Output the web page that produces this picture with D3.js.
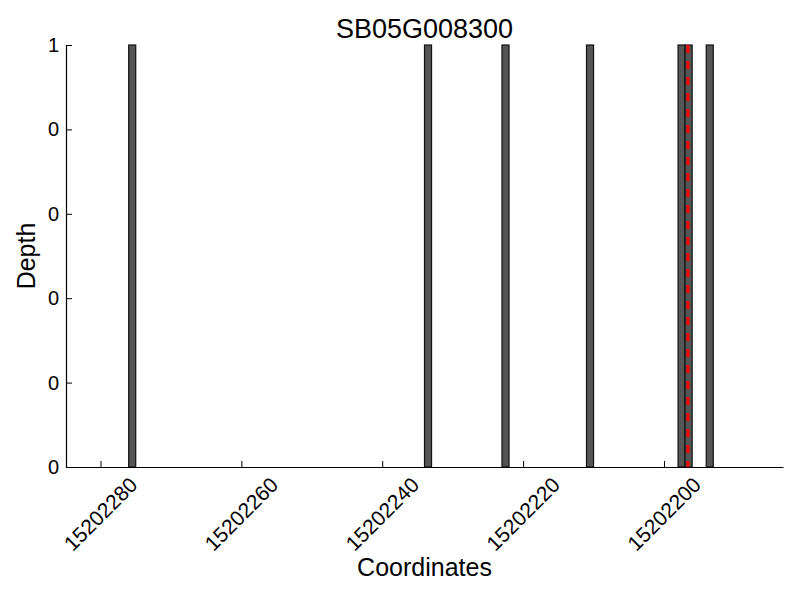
<!DOCTYPE html>
<html>
<head>
<meta charset="utf-8">
<script src="https://cdn.jsdelivr.net/npm/d3@7"></script>
<style>
  body { margin: 0; background: #fff; }
  svg { font-family: "Liberation Sans", Arial, sans-serif; }
</style>
</head>
<body>
<svg id="chart" width="800" height="600"></svg>
<script>
// bar start coordinates (each bar spans 1 bp) and depth
const starts = [15202275, 15202233, 15202222, 15202210, 15202197, 15202196, 15202193]
const depths = [1, 1, 1, 1, 1, 1, 1]
const marker = 15202196.6
const xTicks = [15202280, 15202260, 15202240, 15202220, 15202200]
const yTicks = [0, 0.2, 0.4, 0.6, 0.8, 1]

const title = 'SB05G008300'

const W = 800, H = 600
const margin = { top: 45, right: 17, bottom: 133, left: 66 }

const svg = d3.select('#chart')

// coordinates run right to left
const x = d3.scaleLinear()
  .domain([15202284.9, 15202183.1])
  .range([margin.left, W - margin.right])
const y = d3.scaleLinear()
  .domain([0, 1])
  .range([H - margin.bottom, margin.top])

const bars = starts.map((s, i) => ({ start: s, depth: depths[i] }))

svg.append('g').selectAll('rect')
  .data(bars)
  .enter().append('rect')
    .attr('x', d => x(d.start + 1))
    .attr('width', d => x(d.start) - x(d.start + 1))
    .attr('y', d => y(d.depth))
    .attr('height', d => y(0) - y(d.depth))
    .attr('fill', '#555')
    .attr('stroke', '#111')
    .attr('stroke-width', 1.2)

svg.append('line')
  .attr('x1', x(marker)).attr('x2', x(marker))
  .attr('y1', y(1)).attr('y2', y(0))
  .attr('stroke', 'red')
  .attr('stroke-width', 3)
  .attr('stroke-dasharray', '8,8')

// x axis, ticks inside
const xAxis = svg.append('g')
  .attr('transform', `translate(0,${y(0)})`)
  .call(d3.axisBottom(x).tickValues(xTicks).tickSizeInner(-6).tickSizeOuter(0).tickFormat(''))
xAxis.select('.domain').attr('stroke', '#000').attr('stroke-width', 1.2)
xAxis.selectAll('.tick line').attr('stroke', '#000')

svg.append('g').selectAll('text')
  .data(xTicks)
  .enter().append('text')
    .attr('transform', d => `translate(${x(d)},${y(0) + 47}) rotate(-45)`)
    .attr('text-anchor', 'middle')
    .attr('dy', '0.35em')
    .attr('font-size', 21)
    .text(d => d)

// y axis
const yAxis = svg.append('g')
  .attr('transform', `translate(${margin.left},0)`)
  .call(d3.axisLeft(y).tickValues(yTicks).tickSizeInner(-6).tickSizeOuter(0)
    .tickPadding(7).tickFormat(d => Math.trunc(d)))
yAxis.select('.domain').attr('stroke', '#000').attr('stroke-width', 1.2)
yAxis.selectAll('.tick line').attr('stroke', '#000')
yAxis.selectAll('.tick text').attr('font-size', 20).attr('fill', '#000')
  .attr('font-family', '"Liberation Sans", Arial, sans-serif')

svg.append('text')
  .attr('x', (margin.left + W - margin.right) / 2)
  .attr('y', 38)
  .attr('text-anchor', 'middle')
  .attr('font-size', 27)
  .text(title)

svg.append('text')
  .attr('x', (margin.left + W - margin.right) / 2)
  .attr('y', 576)
  .attr('text-anchor', 'middle')
  .attr('font-size', 25)
  .text('Coordinates')

svg.append('text')
  .attr('transform', `translate(35,${(y(0) + y(1)) / 2}) rotate(-90)`)
  .attr('text-anchor', 'middle')
  .attr('font-size', 25)
  .text('Depth')
</script>
</body>
</html>
